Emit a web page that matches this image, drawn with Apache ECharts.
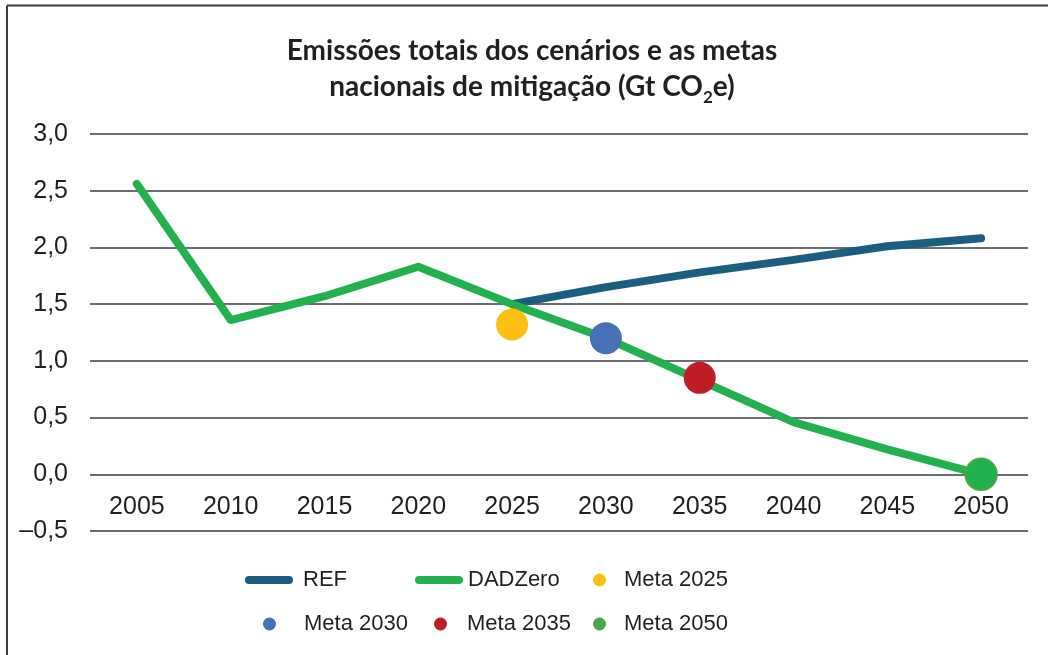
<!DOCTYPE html>
<html><head><meta charset="utf-8">
<script src="https://cdn.jsdelivr.net/npm/echarts@6/dist/echarts.min.js"></script>
<style>html,body{margin:0;padding:0;background:#fff}#c{width:1048px;height:655px}</style>
</head><body><div id="c"></div>
<script>
const years = ['2005','2010','2015','2020','2025','2030','2035','2040','2045','2050'];
const refValues = [null,null,null,null,1.50,1.65,1.78,1.89,2.01,2.08];
const dadzeroValues = [2.56,1.36,1.57,1.83,1.50,1.20,0.83,0.46,0.22,0.0];
const meta2025 = [null,null,null,null,1.32,null,null,null,null,null];
const meta2030 = [null,null,null,null,null,1.20,null,null,null,null];
const meta2035 = [null,null,null,null,null,null,0.85,null,null,null];
const meta2050 = [null,null,null,null,null,null,null,null,null,0.0];
const yTicks = [-0.5,0,0.5,1.0,1.5,2.0,2.5,3.0];
const titleLines = ['Emissões totais dos cenários e as metas','nacionais de mitigação (Gt CO','2','e)'];

const chart = echarts.init(document.getElementById('c'));
const font = '"Liberation Sans", Arial, sans-serif';
const capsule = 'path://M4,0 L44,0 A4,4 0 0 1 44,8 L4,8 A4,4 0 0 1 4,0 Z';
function lg(name, left, top, icon, w, h, gap, color) {
  return {
    data: [{name: name, icon: icon, itemStyle: color ? {color: color, borderWidth: 0} : undefined}],
    left: left, top: top, itemWidth: w, itemHeight: h, itemGap: 0, padding: 0,
    selectedMode: false,
    textStyle: {fontFamily: font, fontSize: 22, color: '#231f20', padding: [0,0,0,gap]}
  };
}
chart.setOption({
  animation: false,
  backgroundColor: '#fff',
  title: {
    text: titleLines[0] + '\n' + titleLines[1] + '{sub|' + titleLines[2] + '}' + titleLines[3],
    left: 532, top: 33, textAlign: 'center', padding: 0,
    textStyle: {
      fontFamily: 'Lato, "Open Sans", sans-serif', fontWeight: 'bold', fontSize: 28,
      color: '#231f20', lineHeight: 36,
      rich: {sub: {fontFamily: 'Lato, sans-serif', fontWeight: 'bold', fontSize: 17, color: '#231f20', padding: [22,0,0,0]}}
    }
  },
  graphic: [
    {type: 'line', shape: {x1: 7, y1: 5.5, x2: 1048, y2: 5.5}, style: {stroke: '#3c3c3c', lineWidth: 2}, silent: true},
    {type: 'line', shape: {x1: 7, y1: 5.5, x2: 7, y2: 655}, style: {stroke: '#3c3c3c', lineWidth: 2}, silent: true}
  ],
  grid: {left: 90, right: 20, top: 134, bottom: 124},
  xAxis: {
    type: 'category', data: years, boundaryGap: true, position: 'bottom', offset: -57,
    axisLine: {show: false, onZero: false}, axisTick: {show: false},
    axisLabel: {fontFamily: font, fontSize: 25, color: '#231f20', margin: 21}
  },
  yAxis: {
    type: 'value', min: -0.5, max: 3.0, interval: 0.5,
    axisLine: {show: false}, axisTick: {show: false},
    splitLine: {lineStyle: {color: '#6d6e71', width: 1.8}},
    axisLabel: {fontFamily: font, fontSize: 25, color: '#231f20', margin: 22,
      formatter: v => { const t = yTicks.find(x => Math.abs(x - v) < 1e-9); return (t < 0 ? '–' : '') + Math.abs(t).toFixed(1).replace('.', ','); }}
  },
  legend: [
    lg('REF', 245, 569, capsule, 48, 8, 5),
    lg('DADZero', 415, 569, capsule, 48, 8, 0),
    lg('Meta 2025', 593, 569, 'circle', 13, 13, 13),
    lg('Meta 2030', 263, 613, 'circle', 13, 13, 23),
    lg('Meta 2035', 434, 613, 'circle', 13, 13, 15),
    lg('Meta 2050', 593, 613, 'circle', 13, 13, 13, '#4ea64a')
  ],
  series: [
    {name: 'REF', type: 'line', data: refValues, symbol: 'none', z: 2,
     itemStyle: {color: '#1b5e80'}, lineStyle: {color: '#1b5e80', width: 8, cap: 'round', join: 'round'}},
    {name: 'DADZero', type: 'line', data: dadzeroValues, symbol: 'none', z: 3,
     itemStyle: {color: '#22b14c'}, lineStyle: {color: '#22b14c', width: 8, cap: 'round', join: 'round'}},
    {name: 'Meta 2025', type: 'scatter', data: meta2025, symbolSize: 32, z: 5, itemStyle: {color: '#fcbf12', opacity: 1}},
    {name: 'Meta 2030', type: 'scatter', data: meta2030, symbolSize: 32, z: 5, itemStyle: {color: '#4671b8', opacity: 1}},
    {name: 'Meta 2035', type: 'scatter', data: meta2035, symbolSize: 32, z: 5, itemStyle: {color: '#bf1e27', opacity: 1}},
    {name: 'Meta 2050', type: 'scatter', data: meta2050, symbolSize: 32, z: 5, itemStyle: {color: '#22b14c', borderColor: '#5aa544', borderWidth: 1.5, opacity: 1}}
  ]
});
</script></body></html>
